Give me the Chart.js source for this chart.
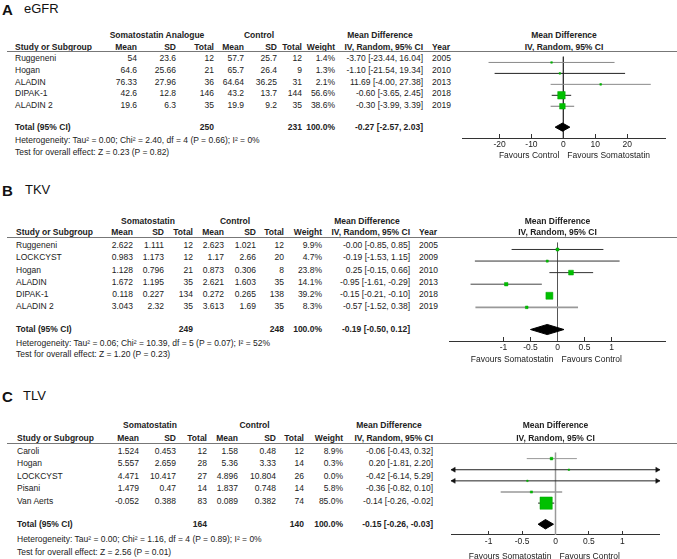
<!DOCTYPE html>
<html>
<head>
<meta charset="utf-8">
<script src="https://cdn.jsdelivr.net/npm/chart.js@4.4.0/dist/chart.umd.min.js"></script>
<style>
    html, body { margin: 0; padding: 0; background: #fff; }
    #fig { position: relative; width: 677px; height: 559px; overflow: hidden;
           font-family: "Liberation Sans", Arial, sans-serif; color: #222; }
    #fig span { position: absolute; white-space: nowrap; font-size: 8.5px; line-height: 10px; }
    #fig span.b { font-weight: bold; }
    #fig span.letter { font-size: 15px; line-height: 16px; font-weight: bold; color: #111; }
    #fig span.name { font-size: 13px; line-height: 14px; color: #111; }
    .hr { position: absolute; height: 0; border-top: 1.5px solid #777; }
    canvas { position: absolute; }
</style>
</head>
<body>
<div id="fig"></div>
<script>
// --- DADOS: eGFR ---
const egfrStudies = ['Ruggeneni', 'Hogan', 'ALADIN', 'DIPAK-1', 'ALADIN 2'];
const egfrSomaMean = [54, 64.6, 76.33, 42.6, 19.6];
const egfrSomaSD = [23.6, 25.66, 27.96, 12.8, 6.3];
const egfrSomaN = [12, 21, 36, 146, 35];
const egfrCtrlMean = [57.7, 65.7, 64.64, 43.2, 19.9];
const egfrCtrlSD = [25.7, 26.4, 36.25, 13.7, 9.2];
const egfrCtrlN = [12, 9, 31, 144, 35];
const egfrWeight = [1.4, 1.3, 2.1, 56.6, 38.6];
const egfrMD = [-3.70, -1.10, 11.69, -0.60, -0.30];
const egfrLow = [-23.44, -21.54, -4.00, -3.65, -3.99];
const egfrHigh = [16.04, 19.34, 27.38, 2.45, 3.39];
const egfrYear = [2005, 2010, 2013, 2018, 2019];
const egfrTotalN = [250, 231];
const egfrTotalCI = [-0.27, -2.57, 2.03];
const egfrTicks = [-20, -10, 0, 10, 20];
const egfrRange = [-31.6, 32];
const egfrHet = 'Heterogeneity: Tau² = 0.00; Chi² = 2.40, df = 4 (P = 0.66); I² = 0%';
const egfrTest = 'Test for overall effect: Z = 0.23 (P = 0.82)';

// --- DADOS: TKV ---
const tkvStudies = ['Ruggeneni', 'LOCKCYST', 'Hogan', 'ALADIN', 'DIPAK-1', 'ALADIN 2'];
const tkvSomaMean = [2.622, 0.983, 1.128, 1.672, 0.118, 3.043];
const tkvSomaSD = [1.111, 1.173, 0.796, 1.195, 0.227, 2.32];
const tkvSomaN = [12, 12, 21, 35, 134, 35];
const tkvCtrlMean = [2.623, 1.17, 0.873, 2.621, 0.272, 3.613];
const tkvCtrlSD = [1.021, 2.66, 0.306, 1.603, 0.265, 1.69];
const tkvCtrlN = [12, 20, 8, 35, 138, 35];
const tkvWeight = [9.9, 4.7, 23.8, 14.1, 39.2, 8.3];
const tkvMD = [-0.00, -0.19, 0.25, -0.95, -0.15, -0.57];
const tkvLow = [-0.85, -1.53, -0.15, -1.61, -0.21, -1.52];
const tkvHigh = [0.85, 1.15, 0.66, -0.29, -0.10, 0.38];
const tkvYear = [2005, 2009, 2010, 2013, 2018, 2019];
const tkvTotalN = [249, 248];
const tkvTotalCI = [-0.19, -0.50, 0.12];
const tkvTicks = [-1, -0.5, 0, 0.5, 1];
const tkvRange = [-2, 2];
const tkvHet = 'Heterogeneity: Tau² = 0.06; Chi² = 10.39, df = 5 (P = 0.07); I² = 52%';
const tkvTest = 'Test for overall effect: Z = 1.20 (P = 0.23)';

// --- DADOS: TLV ---
const tlvStudies = ['Caroli', 'Hogan', 'LOCKCYST', 'Pisani', 'Van Aerts'];
const tlvSomaMean = [1.524, 5.557, 4.471, 1.479, -0.052];
const tlvSomaSD = [0.453, 2.659, 10.417, 0.47, 0.388];
const tlvSomaN = [12, 28, 27, 14, 83];
const tlvCtrlMean = [1.58, 5.36, 4.896, 1.837, 0.089];
const tlvCtrlSD = [0.48, 3.33, 10.804, 0.748, 0.382];
const tlvCtrlN = [12, 14, 26, 14, 74];
const tlvWeight = [8.9, 0.3, 0.0, 5.8, 85.0];
const tlvMD = [-0.06, 0.20, -0.42, -0.36, -0.14];
const tlvLow = [-0.43, -1.81, -6.14, -0.82, -0.26];
const tlvHigh = [0.32, 2.20, 5.29, 0.10, -0.02];
const tlvTotalN = [164, 140];
const tlvTotalCI = [-0.15, -0.26, -0.03];
const tlvTicks = [-1, -0.5, 0, 0.5, 1];
const tlvRange = [-1.56, 1.56];
const tlvHet = 'Heterogeneity: Tau² = 0.00; Chi² = 1.16, df = 4 (P = 0.89); I² = 0%';
const tlvTest = 'Test for overall effect: Z = 2.56 (P = 0.01)';

// --- LAYOUT ---
const FIG_W = 677;
const AXIS_H = 18;
const FONT = '"Liberation Sans", Arial, sans-serif';
const GREEN = '#00c000';

const panels = [
    {
        letter: 'A', name: 'eGFR', group: 'Somatostatin Analogue',
        favours: ['Favours Control', 'Favours Somatostatin'],
        studies: egfrStudies, somaMean: egfrSomaMean, somaSD: egfrSomaSD, somaN: egfrSomaN,
        ctrlMean: egfrCtrlMean, ctrlSD: egfrCtrlSD, ctrlN: egfrCtrlN, weight: egfrWeight,
        md: egfrMD, low: egfrLow, high: egfrHigh, year: egfrYear,
        totalN: egfrTotalN, totalCI: egfrTotalCI, ticks: egfrTicks, range: egfrRange,
        het: egfrHet, test: egfrTest,
        L: { titleY: 10, nameX: 24, headY1: 35, headY2: 47, lineY: 52, rowY0: 58.3, pitch: 11.6,
             totalY: 126.8, hetY: 140, testY: 152, axisY: 138.3, favY: 155,
             studyX: 15, cols: [137, 176, 214, 244, 277, 302, 335, 423], yearX: 432,
             somaX: 157, ctrlX: 259, mdX: 380, plotL: 458, plotR: 670,
             boxMin: 1.5, boxK: 0.106, diamondH: 4.3,
             ciColors: ['#8a8a8a', '#222', '#8a8a8a', '#222', '#777'], ciWidths: [1, 1, 1, 1, 1.2],
             zeroColor: '#333', zeroW: 1 }
    },
    {
        letter: 'B', name: 'TKV', group: 'Somatostatin',
        favours: ['Favours Somatostatin', 'Favours Control'],
        studies: tkvStudies, somaMean: tkvSomaMean, somaSD: tkvSomaSD, somaN: tkvSomaN,
        ctrlMean: tkvCtrlMean, ctrlSD: tkvCtrlSD, ctrlN: tkvCtrlN, weight: tkvWeight,
        md: tkvMD, low: tkvLow, high: tkvHigh, year: tkvYear,
        totalN: tkvTotalN, totalCI: tkvTotalCI, ticks: tkvTicks, range: tkvRange,
        het: tkvHet, test: tkvTest,
        L: { titleY: 191, nameX: 25, headY1: 220.7, headY2: 232.3, lineY: 238, rowY0: 245.3, pitch: 12.1,
             totalY: 329, hetY: 343.3, testY: 354.3, axisY: 341, favY: 358.5,
             studyX: 16, cols: [133, 164, 193, 224, 256, 284, 322, 410], yearX: 419,
             somaX: 148, ctrlX: 235, mdX: 367, plotL: 445, plotR: 670,
             boxMin: 1.5, boxK: 0.14, diamondH: 5.3,
             ciColors: ['#333', '#333', '#333', '#444', '#333', '#999'], ciWidths: [1, 1, 1, 1, 1, 1.8],
             zeroColor: '#555', zeroW: 1 }
    },
    {
        letter: 'C', name: 'TLV', group: 'Somatostatin',
        favours: ['Favours Somatostatin', 'Favours Control'],
        studies: tlvStudies, somaMean: tlvSomaMean, somaSD: tlvSomaSD, somaN: tlvSomaN,
        ctrlMean: tlvCtrlMean, ctrlSD: tlvCtrlSD, ctrlN: tlvCtrlN, weight: tlvWeight,
        md: tlvMD, low: tlvLow, high: tlvHigh, year: null,
        totalN: tlvTotalN, totalCI: tlvTotalCI, ticks: tlvTicks, range: tlvRange,
        het: tlvHet, test: tlvTest,
        L: { titleY: 397, nameX: 23, headY1: 425, headY2: 437.7, lineY: 443.3, rowY0: 450.5, pitch: 12.5,
             totalY: 524.2, hetY: 538.7, testY: 551.7, axisY: 536.3, favY: 555.5,
             studyX: 17, cols: [139, 176, 207, 238, 276, 304, 343, 433], yearX: null,
             somaX: 150, ctrlX: 254.5, mdX: 389, plotL: 442, plotR: 669,
             boxMin: 1.5, boxK: 0.127, diamondH: 5.3,
             ciColors: ['#999', '#222', '#222', '#999', '#222'], ciWidths: [1, 1, 1, 1.5, 1],
             zeroColor: '#999', zeroW: 1.5 }
    }
];

const fig = document.getElementById('fig');

// --- TEXTO ---
function put(x, y, s, align, cls, half) {
    const el = document.createElement('span');
    el.textContent = s;
    if (cls) el.className = cls;
    el.style.top = (y - (half || 5)) + 'px';
    if (align === 'r') el.style.right = (FIG_W - x) + 'px';
    else if (align === 'c') { el.style.left = x + 'px'; el.style.transform = 'translateX(-50%)'; }
    else el.style.left = x + 'px';
    fig.appendChild(el);
    return el;
}

function fmt2(v) {
    return (Object.is(v, -0) ? '-' : '') + v.toFixed(2);
}

function ciText(md, lo, hi) {
    return `${fmt2(md)} [${fmt2(lo)}, ${fmt2(hi)}]`;
}

function desenharTabela(p) {
    const L = p.L;
    const c = L.cols;
    const plotMid = (L.plotL + L.plotR) / 2;

    put(2, L.titleY, p.letter, 'l', 'letter', 8);
    put(L.nameX, L.titleY - 1, p.name, 'l', 'name', 7);

    put(L.somaX, L.headY1, p.group, 'c', 'b');
    put(L.ctrlX, L.headY1, 'Control', 'c', 'b');
    put(L.mdX, L.headY1, 'Mean Difference', 'c', 'b');
    put(plotMid, L.headY1, 'Mean Difference', 'c', 'b');

    put(L.studyX, L.headY2, 'Study or Subgroup', 'l', 'b');
    ['Mean', 'SD', 'Total', 'Mean', 'SD', 'Total', 'Weight', 'IV, Random, 95% CI']
        .forEach((h, k) => put(c[k], L.headY2, h, 'r', 'b'));
    if (L.yearX) put(L.yearX, L.headY2, 'Year', 'l', 'b');
    put(plotMid, L.headY2, 'IV, Random, 95% CI', 'c', 'b');

    const hr = document.createElement('div');
    hr.className = 'hr';
    hr.style.left = '7px';
    hr.style.width = (FIG_W - 7) + 'px';
    hr.style.top = (L.lineY - 0.75) + 'px';
    fig.appendChild(hr);

    p.studies.forEach((nome, i) => {
        const y = L.rowY0 + i * L.pitch;
        put(L.studyX, y, nome, 'l');
        const cells = [p.somaMean[i], p.somaSD[i], p.somaN[i], p.ctrlMean[i], p.ctrlSD[i], p.ctrlN[i]];
        cells.forEach((v, k) => put(c[k], y, String(v), 'r'));
        put(c[6], y, p.weight[i].toFixed(1) + '%', 'r');
        put(c[7], y, ciText(p.md[i], p.low[i], p.high[i]), 'r');
        if (p.year) put(L.yearX, y, String(p.year[i]), 'l');
    });

    put(L.studyX, L.totalY, 'Total (95% CI)', 'l', 'b');
    put(c[2], L.totalY, String(p.totalN[0]), 'r', 'b');
    put(c[5], L.totalY, String(p.totalN[1]), 'r', 'b');
    put(c[6], L.totalY, '100.0%', 'r', 'b');
    put(c[7], L.totalY, ciText(p.totalCI[0], p.totalCI[1], p.totalCI[2]), 'r', 'b');
    put(L.studyX, L.hetY, p.het, 'l');
    put(L.studyX, L.testY, p.test, 'l');
}

// --- GRAFICO (forest plot) ---
function desenharForest(p) {
    const L = p.L;
    const W = L.plotR - L.plotL;
    const H = (L.axisY - L.lineY) + AXIS_H;
    const yMin = (L.lineY - L.rowY0) / L.pitch;
    const yMax = (L.axisY - L.rowY0) / L.pitch;
    const tIdx = (L.totalY - L.rowY0) / L.pitch;
    const dh = L.diamondH / L.pitch;
    const [xMin, xMax] = p.range;
    const pxPorUnidade = W / (xMax - xMin);

    const canvas = document.createElement('canvas');
    canvas.width = W;
    canvas.height = H;
    canvas.style.left = L.plotL + 'px';
    canvas.style.top = L.lineY + 'px';
    fig.appendChild(canvas);

    const datasets = [];

    // quadrados (peso)
    datasets.push({
        data: p.md.map((v, i) => ({ x: v, y: i })),
        showLine: false,
        pointStyle: 'rect',
        pointRadius: p.weight.map(w => (L.boxMin + L.boxK * w) / Math.SQRT2),
        pointBackgroundColor: GREEN,
        pointBorderColor: '#00a400',
        pointBorderWidth: 0.5
    });

    // diamante do total
    const [tm, tl, th] = p.totalCI;
    datasets.push({
        data: [{ x: tl, y: tIdx }, { x: tm, y: tIdx - dh }, { x: th, y: tIdx }, { x: tm, y: tIdx + dh }, { x: tl, y: tIdx }],
        borderColor: '#000',
        backgroundColor: '#000',
        borderWidth: 1,
        fill: 'shape',
        pointRadius: 0
    });

    // setas quando o IC sai da escala
    const setas = [], rot = [];
    const r = 2.8;
    p.low.forEach((lo, i) => {
        if (lo < xMin) { setas.push({ x: xMin + r / pxPorUnidade, y: i }); rot.push(-90); }
        if (p.high[i] > xMax) { setas.push({ x: xMax - r / pxPorUnidade, y: i }); rot.push(90); }
    });
    if (setas.length) {
        datasets.push({
            data: setas, showLine: false, pointStyle: 'triangle', pointRadius: r,
            pointRotation: rot, pointBackgroundColor: '#111', pointBorderColor: '#111',
            pointBorderWidth: 0.5, clip: false
        });
    }

    // intervalos de confiança
    p.low.forEach((lo, i) => {
        datasets.push({
            data: [{ x: lo, y: i }, { x: p.high[i], y: i }],
            borderColor: L.ciColors[i],
            borderWidth: L.ciWidths[i],
            pointRadius: 0,
            clip: 0
        });
    });

    // linha vertical no zero
    datasets.push({
        data: [{ x: 0, y: yMin }, { x: 0, y: yMax }],
        borderColor: L.zeroColor,
        borderWidth: L.zeroW,
        pointRadius: 0,
        clip: 0
    });

    const chart = new Chart(canvas.getContext('2d'), {
        type: 'line',
        data: { datasets },
        options: {
            responsive: false,
            animation: false,
            devicePixelRatio: 1,
            events: [],
            layout: { padding: 0 },
            plugins: { legend: { display: false }, tooltip: { enabled: false } },
            scales: {
                x: {
                    type: 'linear',
                    min: xMin,
                    max: xMax,
                    afterBuildTicks: s => { s.ticks = p.ticks.map(v => ({ value: v })); },
                    afterFit: s => { s.height = AXIS_H; s.paddingLeft = 0; s.paddingRight = 0; },
                    grid: { drawOnChartArea: false, drawTicks: true, tickLength: -4, color: '#333', lineWidth: 1 },
                    border: { display: true, color: '#333', width: 1 },
                    ticks: {
                        autoSkip: false, maxRotation: 0, padding: 6, color: '#222',
                        font: { family: FONT, size: 8.5 },
                        callback: v => String(v)
                    }
                },
                y: { type: 'linear', display: false, reverse: true, min: yMin, max: yMax }
            }
        }
    });

    // rótulos "Favours"
    const zx = L.plotL + chart.scales.x.getPixelForValue(0);
    put(zx - 4, L.favY, p.favours[0], 'r');
    put(zx + 4, L.favY, p.favours[1], 'l');
}

// --- INICIALIZAÇÃO ---
panels.forEach(p => {
    desenharTabela(p);
    desenharForest(p);
});
</script>
</body>
</html>
